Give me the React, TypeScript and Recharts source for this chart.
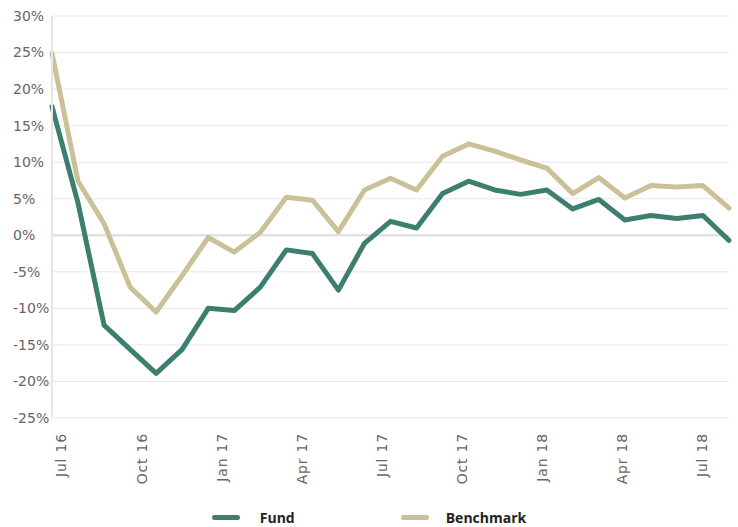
import { LineChart, Line, XAxis, YAxis, CartesianGrid, ReferenceLine, Legend } from "recharts";

// cumulative return, %, one point per period from mid 2016
const fund = [
  17.6, 4.4, -12.3, -15.6, -18.9, -15.6, -10.0, -10.3, -7.1, -2.0, -2.5, -7.5, -1.1, 1.9,
  1.0, 5.7, 7.4, 6.2, 5.6, 6.2, 3.6, 4.9, 2.1, 2.7, 2.3, 2.7, -0.7,
];
const benchmark = [
  24.9, 7.4, 1.6, -7.1, -10.5, -5.5, -0.3, -2.3, 0.4, 5.2, 4.8, 0.5, 6.2, 7.8,
  6.2, 10.8, 12.5, 11.5, 10.3, 9.2, 5.7, 7.9, 5.1, 6.8, 6.6, 6.8, 3.7,
];

// month axis, 0 = Jul 16
const monthDomain: [number, number] = [-0.36, 25.02];
const tickMonths = [0, 3, 6, 9, 12, 15, 18, 21, 24];
const tickLabels = ["Jul 16", "Oct 16", "Jan 17", "Apr 17", "Jul 17", "Oct 17", "Jan 18", "Apr 18", "Jul 18"];
const yTicks = [-25, -20, -15, -10, -5, 0, 5, 10, 15, 20, 25, 30];
const seriesOrder = ["Fund", "Benchmark"];

const data = fund.map((v, i) => ({ i, fund: v, benchmark: benchmark[i] }));

const MonthTick = ({ x, y, payload }: any) => {
  const ty = y + 7;
  return (
    <text
      x={x}
      y={ty}
      transform={`rotate(-90, ${x}, ${ty})`}
      textAnchor="end"
      dy="0.35em"
      fill="#666"
      fontSize={14}
      fontFamily="DejaVu Sans"
      letterSpacing={0.8}
    >
      {tickLabels[tickMonths.indexOf(payload.value)]}
    </text>
  );
};

const PctTick = ({ y, payload }: any) => (
  <text x={13} y={y} dy="0.35em" textAnchor="start" fill="#666" fontSize={14} fontFamily="DejaVu Sans">
    {payload.value}%
  </text>
);

const renderLegend = ({ payload }: any) => {
  const items = seriesOrder.map((name) => payload.find((p: any) => p.value === name)).filter(Boolean);
  return (
    <div style={{ display: "flex", justifyContent: "center", paddingTop: 15, height: 34, boxSizing: "border-box" }}>
      {items.map((p: any, k: number) => (
        <div key={p.value} style={{ display: "flex", alignItems: "center", marginRight: k === 0 ? 106 : 0 }}>
          <div style={{ width: 28, height: 5, borderRadius: 3, background: p.color }} />
          <span
            style={{
              marginLeft: k === 0 ? 20 : 17,
              fontFamily: "Open Sans",
              fontWeight: 700,
              fontSize: 14,
              color: "#222",
              lineHeight: "18px",
            }}
          >
            {p.value}
          </span>
        </div>
      ))}
    </div>
  );
};

export default function App() {
  return (
    <div style={{ position: "absolute", left: 0, top: 0 }}>
      <LineChart width={738} height={527} data={data} margin={{ top: 16, right: 9, left: 0, bottom: 0 }}>
        <CartesianGrid xAxisId="idx" vertical={false} stroke="#e8e8e8" strokeWidth={1} />
        <XAxis xAxisId="idx" type="number" dataKey="i" domain={[0, 26]} height={0} hide />
        <XAxis
          xAxisId="months"
          type="number"
          dataKey="i"
          domain={monthDomain}
          allowDataOverflow
          ticks={tickMonths}
          interval={0}
          tick={<MonthTick />}
          axisLine={false}
          tickLine={false}
          height={75}
        />
        <YAxis
          domain={[-25, 30]}
          ticks={yTicks}
          interval={0}
          width={52}
          tick={<PctTick />}
          axisLine={{ stroke: "#e6e6e6", strokeWidth: 2 }}
          tickLine={false}
        />
        <ReferenceLine xAxisId="idx" y={0} stroke="#e2e2e2" strokeWidth={2.5} />
        <Legend
          verticalAlign="bottom"
          content={renderLegend}
          wrapperStyle={{ position: "absolute", left: 0, bottom: 0, width: 738, height: 34 }}
        />
        <Line
          xAxisId="idx"
          type="linear"
          dataKey="fund"
          name="Fund"
          stroke="#3d7f6f"
          strokeWidth={5}
          strokeLinecap="round"
          strokeLinejoin="round"
          dot={false}
          isAnimationActive={false}
        />
        <Line
          xAxisId="idx"
          type="linear"
          dataKey="benchmark"
          name="Benchmark"
          stroke="#cbc198"
          strokeWidth={5}
          strokeLinecap="round"
          strokeLinejoin="round"
          dot={false}
          isAnimationActive={false}
        />
      </LineChart>
    </div>
  );
}
